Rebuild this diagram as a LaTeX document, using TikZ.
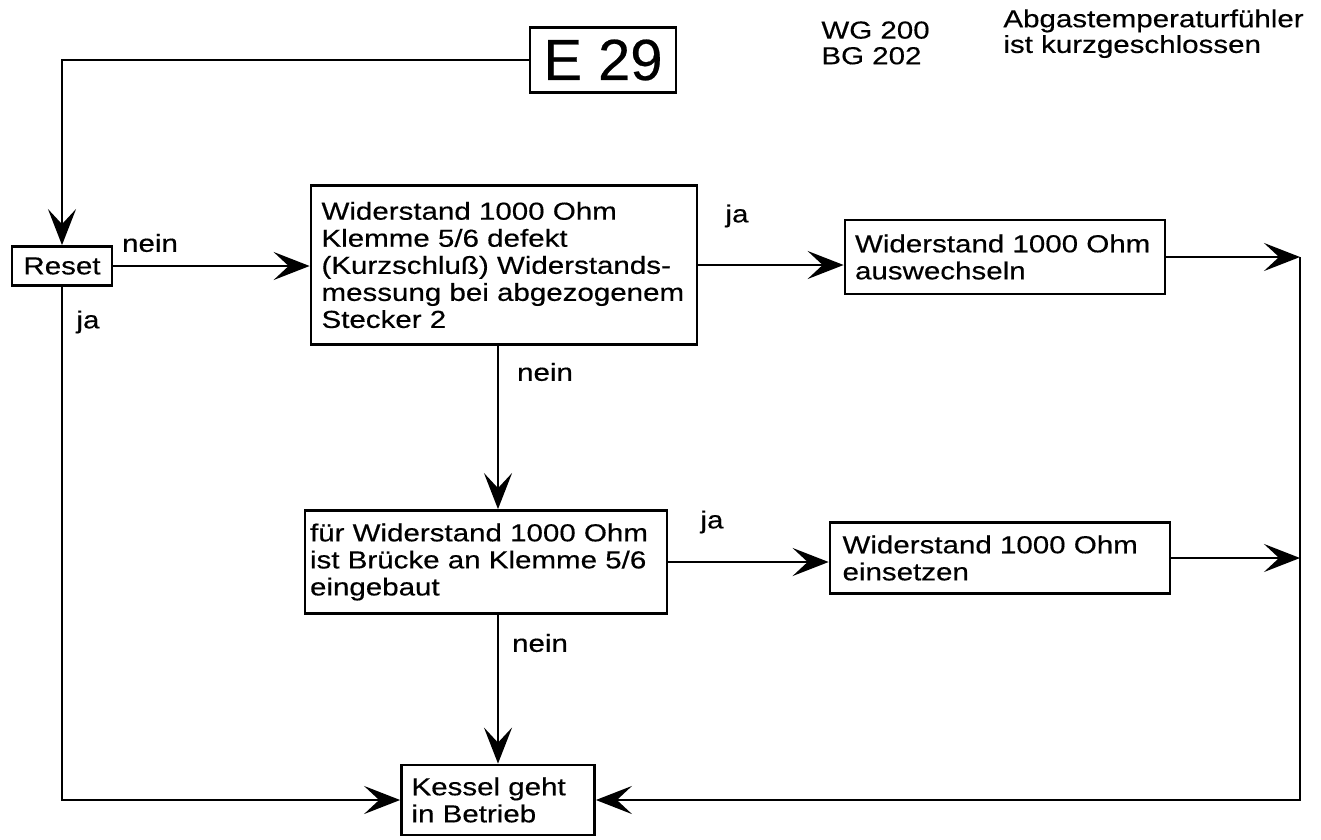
\documentclass[tikz,border=0pt]{standalone}
\usepackage{fontspec}
\setmainfont{Liberation Sans}[FakeStretch=1.2,FakeBold=0.4]
\newfontfamily\plainsans{Liberation Sans}[FakeBold=0.4]
\usepackage{tikz}
\usetikzlibrary{arrows.meta}

\begin{document}
\begin{tikzpicture}[x=0.02cm,y=-0.02cm,line width=1.6pt,
    box/.style={draw,align=left,inner xsep=0pt,inner ysep=0pt,anchor=center},
    lbl/.style={inner sep=0pt},
    arr/.style={-{Stealth[length=0.72cm,width=0.56cm,inset=0.3cm]}},
    font=\fontsize{14}{15.4}\selectfont]
    \useasboundingbox (0,0) rectangle (1321,839);

    % heading
    \node[draw,inner sep=0pt,minimum width=2.92cm,minimum height=1.3cm,
          font=\plainsans\fontsize{33}{36}\selectfont] (e29) at (603,60) {E 29};
    \node[align=left,anchor=north west,inner sep=0pt,font=\fontsize{14}{14.6}\selectfont] (typ) at (820,20) {WG 200\\BG 202};
    \node[align=left,anchor=north west,inner sep=0pt,font=\fontsize{14}{14.6}\selectfont] (titel) at (1002,8) {Abgastemperaturfühler\\ist kurzgeschlossen};

    % boxes
    \node[box,minimum width=2cm,minimum height=0.78cm,align=center] (reset) at (62,266) {Reset};
    \node[box,minimum width=7.72cm,minimum height=3.18cm,text width=7.3cm] (pruef1) at (504,265)
        {Widerstand 1000 Ohm\\Klemme 5/6 defekt\\(Kurzschluß) Widerstands-\\messung bei abgezogenem\\Stecker 2};
    \node[box,minimum width=6.4cm,minimum height=1.48cm,text width=6.0cm] (tausch) at (1005,257)
        {Widerstand 1000 Ohm\\auswechseln};
    \node[box,minimum width=7.24cm,minimum height=2.06cm,text width=7.04cm] (pruef2) at (486,562)
        {für Widerstand 1000 Ohm\\ist Brücke an Klemme 5/6\\eingebaut};
    \node[box,minimum width=6.8cm,minimum height=1.42cm,text width=6.3cm] (einsatz) at (1000,558)
        {Widerstand 1000 Ohm\\einsetzen};
    \node[box,minimum width=3.86cm,minimum height=1.4cm,text width=3.46cm] (kessel) at (498,800)
        {Kessel geht\\in Betrieb};

    \coordinate (rr) at (1300,800);

    % connectors
    \draw[arr] (e29.west) -- (e29.west -| reset.north) -- (reset.north);
    \draw[arr] (reset.east) -- (reset.east -| pruef1.west);
    \draw[arr] (reset.south) |- (kessel.west);
    \draw[arr] (pruef1.east) -- (pruef1.east -| tausch.west);
    \draw[arr] (tausch.east) -- (tausch.east -| rr);
    \draw[arr] (pruef1.south -| kessel.north) -- (pruef2.north -| kessel.north);
    \draw[arr] (pruef2.east) -- (pruef2.east -| einsatz.west);
    \draw[arr] (einsatz.east) -- (einsatz.east -| rr);
    \draw[arr] (pruef2.south -| kessel.north) -- (kessel.north);
    \draw[arr] (tausch.east -| rr) -- (rr) -- (kessel.east);

    % labels
    \node[lbl] (l1) at (150,243) {nein};
    \node[lbl] (l2) at (88,322) {ja};
    \node[lbl] (l3) at (737,216) {ja};
    \node[lbl] (l4) at (545,372) {nein};
    \node[lbl] (l5) at (712,522) {ja};
    \node[lbl] (l6) at (540,643) {nein};
\end{tikzpicture}
\end{document}
